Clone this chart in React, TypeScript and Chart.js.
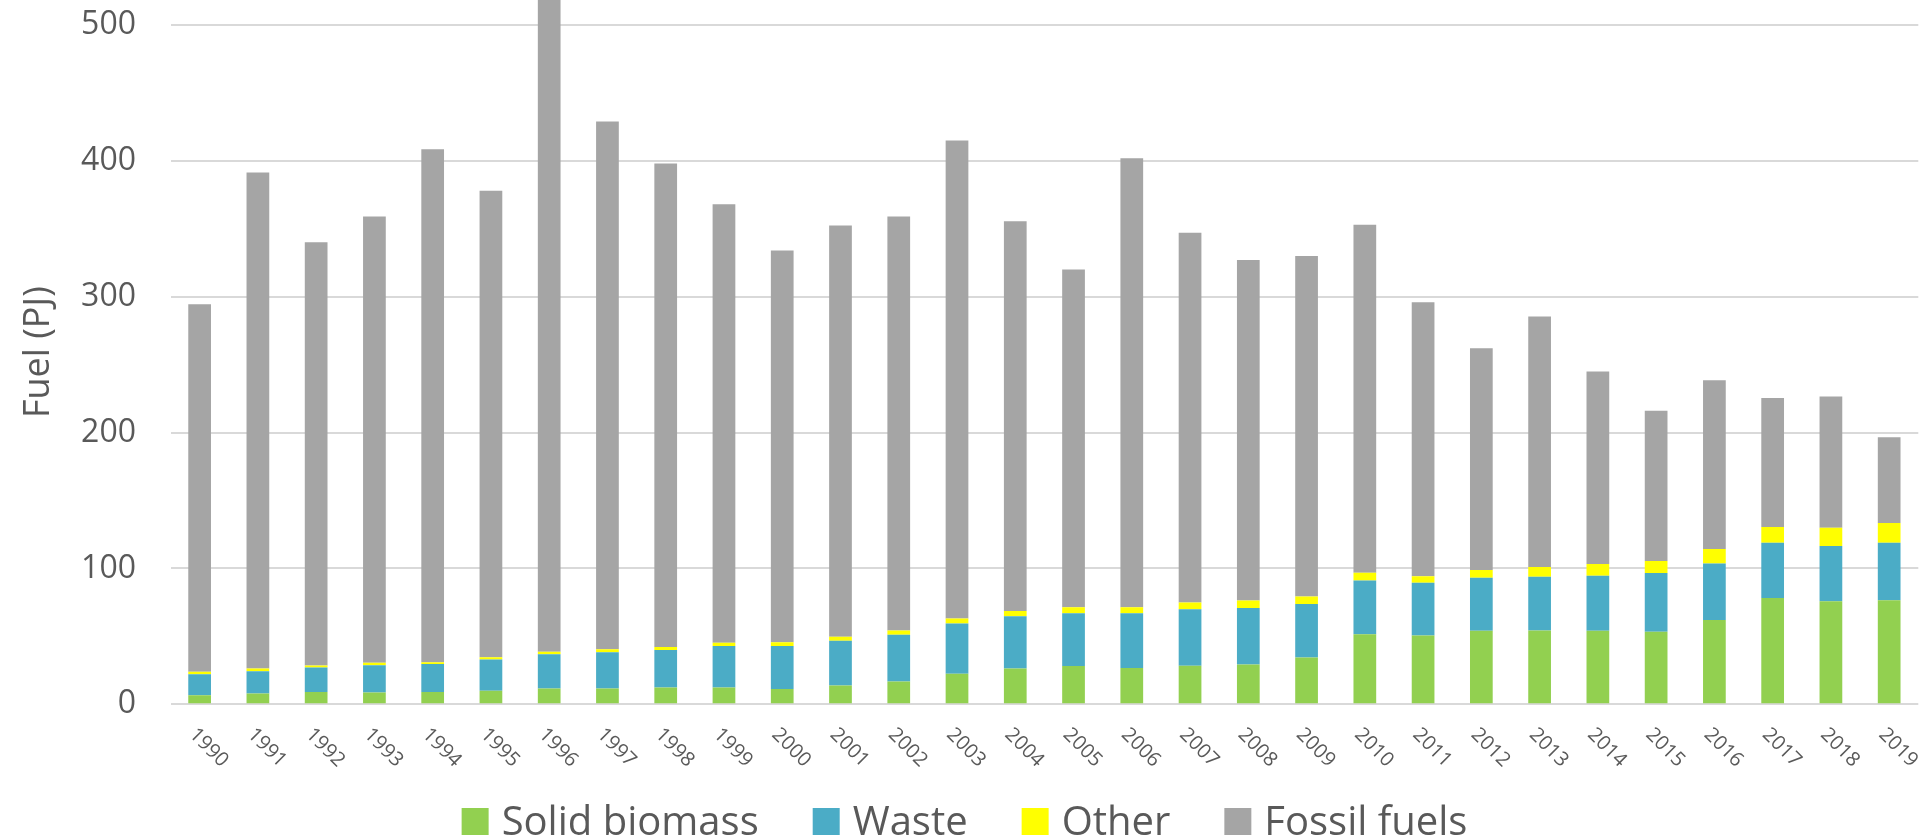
import React, { useEffect, useRef } from "react";
import { Chart, registerables } from "chart.js";

Chart.register(...registerables);

const years = [
  "1990", "1991", "1992", "1993", "1994", "1995", "1996", "1997", "1998", "1999",
  "2000", "2001", "2002", "2003", "2004", "2005", "2006", "2007", "2008", "2009",
  "2010", "2011", "2012", "2013", "2014", "2015", "2016", "2017", "2018", "2019",
];

const solidBiomass = [
  6.7, 7.9, 9.1, 8.6, 9.1, 9.9, 11.6, 11.6, 12.3, 12.3,
  11.3, 13.8, 16.7, 22.4, 26.4, 28.1, 26.8, 28.3, 29.3, 34.5,
  51.5, 50.7, 54.2, 54.4, 54.2, 53.4, 62.1, 78.3, 75.9, 76.6,
];

const waste = [
  15.5, 16.5, 18.0, 20.2, 20.5, 23.1, 25.3, 26.8, 27.6, 30.6,
  31.6, 33.0, 34.5, 37.0, 38.4, 38.9, 40.2, 41.7, 41.6, 39.4,
  39.6, 38.7, 38.9, 39.4, 40.4, 43.2, 41.6, 40.7, 40.6, 42.4,
];

const other = [
  1.7, 2.0, 1.5, 1.7, 1.4, 1.7, 1.8, 2.2, 2.2, 2.4,
  2.7, 3.0, 3.2, 3.7, 3.9, 4.4, 4.4, 4.9, 5.5, 5.4,
  5.7, 4.9, 5.7, 7.2, 8.6, 8.8, 10.6, 11.5, 13.5, 14.5,
];

const fossilFuels = [
  270.5, 365.1, 311.4, 328.5, 377.5, 343.3, 488.3, 388.4, 355.9, 322.7,
  288.4, 302.7, 304.6, 351.9, 286.8, 248.6, 330.6, 272.1, 250.6, 250.7,
  256.2, 201.7, 163.2, 184.5, 141.8, 110.6, 124.2, 95.0, 96.5, 63.0,
];

const seriesNames = ["Solid biomass", "Waste", "Other", "Fossil fuels"];
const seriesColors = ["#92D050", "#4BACC6", "#FFFF00", "#A5A5A5"];
const yAxisTitle = "Fuel (PJ)";
const yTickValues = [0, 100, 200, 300, 400, 500];

const FONT = "'Open Sans', 'DejaVu Sans', sans-serif";
const TEXT_COLOR = "#595959";

const xLabelPlugin = {
  id: "xLabels",
  afterDraw(chart: any) {
    const ctx = chart.ctx;
    const xScale = chart.scales.x;
    const base = chart.chartArea.bottom;
    const size = 20;
    ctx.save();
    ctx.font = `${size}px ${FONT}`;
    ctx.fillStyle = TEXT_COLOR;
    ctx.textAlign = "left";
    ctx.textBaseline = "alphabetic";
    chart.data.labels.forEach((lab: string, i: number) => {
      const x = xScale.getPixelForValue(i);
      ctx.save();
      ctx.translate(x - 1, base + 21);
      ctx.rotate(Math.PI / 4);
      ctx.fillText(lab, 0, size * 0.72);
      ctx.restore();
    });
    ctx.restore();
  },
};

const legendPlugin = {
  id: "customLegend",
  afterDraw(chart: any) {
    const ctx = chart.ctx;
    const size = 40;
    const box = 27;
    const gap = 13;
    const spacing = 54;
    const boxBottom = 835;
    ctx.save();
    ctx.font = `${size}px ${FONT}`;
    const items = chart.data.datasets.map((ds: any) => ({
      label: ds.label,
      color: ds.backgroundColor,
      w: ctx.measureText(ds.label).width,
    }));
    const total =
      items.reduce((s: number, it: any) => s + box + gap + it.w, 0) +
      spacing * (items.length - 1);
    let x = (chart.width - total) / 2;
    items.forEach((it: any) => {
      ctx.fillStyle = it.color;
      ctx.fillRect(x, boxBottom - box, box, box);
      ctx.fillStyle = TEXT_COLOR;
      ctx.textAlign = "left";
      ctx.textBaseline = "alphabetic";
      ctx.fillText(it.label, x + box + gap, boxBottom);
      x += box + gap + it.w + spacing;
    });
    ctx.restore();
  },
};

export default function App() {
  const canvasRef = useRef<HTMLCanvasElement | null>(null);

  useEffect(() => {
    if (!canvasRef.current) return;
    const seriesData = [solidBiomass, waste, other, fossilFuels];
    const chart = new Chart(canvasRef.current, {
      type: "bar",
      data: {
        labels: years,
        datasets: seriesNames.map((name, i) => ({
          label: name,
          data: seriesData[i],
          backgroundColor: seriesColors[i],
          borderWidth: 0,
          categoryPercentage: 1,
          barPercentage: 0.39,
        })),
      },
      options: {
        responsive: false,
        animation: false,
        devicePixelRatio: 1,
        layout: { padding: { left: 0, right: 10.7, top: 0, bottom: 135.7 } },
        plugins: {
          legend: { display: false },
          tooltip: { enabled: false },
          title: { display: false },
        },
        scales: {
          x: {
            stacked: true,
            display: false,
            grid: { display: false },
          },
          y: {
            stacked: true,
            min: 0,
            max: 518.4,
            border: { display: false },
            grid: { color: "#d9d9d9", lineWidth: 2, drawTicks: false },
            ticks: {
              padding: 34.5,
              color: TEXT_COLOR,
              font: { family: FONT, size: 32 },
            },
            title: {
              display: true,
              text: yAxisTitle,
              color: TEXT_COLOR,
              font: { family: FONT, size: 36 },
              padding: { top: 17.4, bottom: 0 },
            },
            afterBuildTicks: (scale: any) => {
              scale.ticks = yTickValues.map((v) => ({ value: v }));
            },
            afterFit: (scale: any) => {
              scale.width = 170.5;
              scale.paddingTop = 0;
              scale.paddingBottom = 0;
            },
          },
        },
      },
      plugins: [xLabelPlugin, legendPlugin],
    });
    return () => chart.destroy();
  }, []);

  return (
    <div style={{ position: "fixed", left: 0, top: 0, width: 1929, height: 840, background: "#ffffff" }}>
      <canvas ref={canvasRef} width={1929} height={840} style={{ width: 1929, height: 840, display: "block" }} />
    </div>
  );
}
